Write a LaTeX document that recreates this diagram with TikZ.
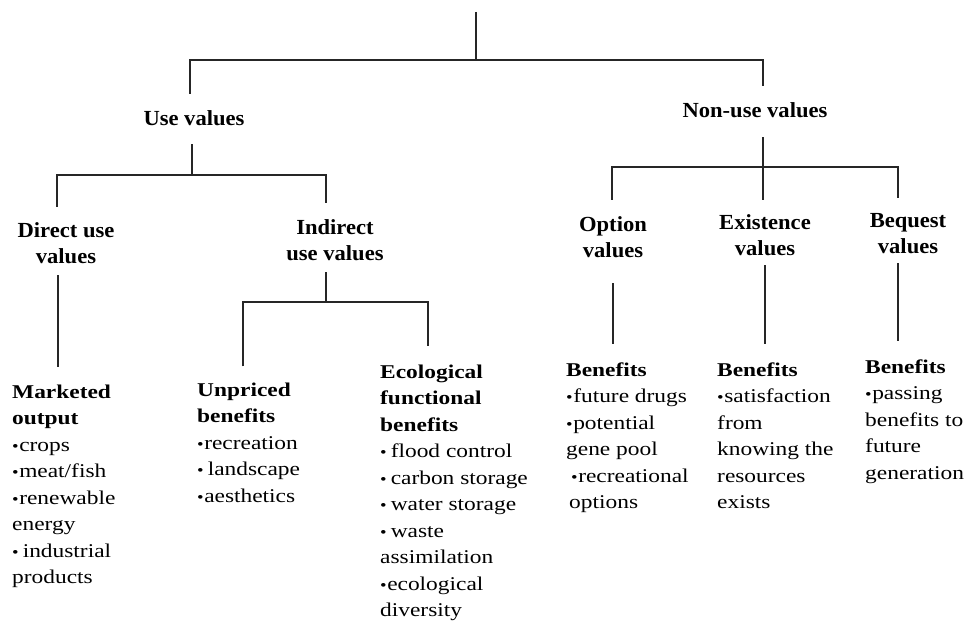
\documentclass[tikz,border=0pt]{standalone}
\usepackage{fontspec}
\usepackage{graphicx}
\setmainfont{Liberation Serif}
\newfontfamily\hfont{Liberation Serif}[FakeStretch=1.05]
\newfontfamily\lfont{Liberation Serif}[FakeStretch=1.2]
\newcommand\bul{\scalebox{0.8}{\textbullet}\hspace{0.5pt}}
\newcommand\bulsp{\scalebox{0.8}{\textbullet}\hspace{4pt}}
\begin{document}
\begin{tikzpicture}[x=1pt,y=-1pt,
  head/.style={font=\hfont\bfseries\fontsize{21.5}{26}\selectfont, align=center, anchor=base, inner sep=0pt},
  lst/.style={font=\lfont\fontsize{19.5}{26.5}\selectfont, align=left, anchor=base west, inner sep=0pt},
  conn/.style={draw=black!85, line width=1.4pt}]
\useasboundingbox[fill=white] (0,0) rectangle (969,623);

% headers (anchored at the baseline of their last line)
\node[head] (use) at (194,126) {Use values};
\node[head] (nonuse) at (755,118) {Non-use values};
\node[head] (direct) at (66,263) {Direct use\\values};
\node[head] (indirect) at (335,260) {Indirect\\use values};
\node[head] (option) at (613,257) {Option\\values};
\node[head] (exist) at (765,255) {Existence\\values};
\node[head] (bequest) at (908,253) {Bequest\\values};

% lists (anchored at the baseline of their last line)
\node[lst] (mkt) at (12,583.5) {\textbf{Marketed}\\\textbf{output}\\\bul crops\\\bul meat/fish\\\bul renewable\\energy\\\bulsp industrial\\products};
\node[lst] (unp) at (197,502) {\textbf{Unpriced}\\\textbf{benefits}\\\bul recreation\\\bulsp landscape\\\bul aesthetics};
\node[lst] (eco) at (380,616.5) {\textbf{Ecological}\\\textbf{functional}\\\textbf{benefits}\\\bulsp flood control\\\bulsp carbon storage\\\bulsp water storage\\\bulsp waste\\assimilation\\\bul ecological\\diversity};
\node[lst] (opt) at (566,508.5) {\textbf{Benefits}\\\bul future drugs\\\bul potential\\gene pool\\\hspace*{5pt}\bul recreational\\\hspace*{3pt}options};
\node[lst] (exi) at (717,508.5) {\textbf{Benefits}\\\bul satisfaction\\from\\knowing the\\resources\\exists};
\node[lst] (beq) at (865,479) {\textbf{Benefits}\\\bul passing\\benefits to\\future\\generation};

% junctions
\coordinate (root) at (476,12);
\coordinate (j0) at (476,60);
\coordinate (j1) at (192,175);
\coordinate (j2) at (326,302);
\coordinate (j3) at (763,167);

% connectors
\draw[conn] (root) -- (j0);
\draw[conn] ([xshift=-4pt,yshift=17pt]use.north) |- (j0) -| ([xshift=8pt,yshift=17pt]nonuse.north);
\draw[conn] ([xshift=-2pt,yshift=-18pt]use.south) -- (j1);
\draw[conn] ([xshift=-9pt,yshift=15pt]direct.north) |- (j1) -| ([xshift=-9pt,yshift=16pt]indirect.north);
\draw[conn] ([xshift=-8pt,yshift=-12pt]direct.south) -- ([xshift=-8pt,yshift=17pt]direct.south |- mkt.north);
\draw[conn] ([xshift=-9pt,yshift=-12pt]indirect.south) -- (j2);
\draw[conn] ([xshift=-83pt,yshift=16pt]j2 |- unp.north) |- (j2) -| ([xshift=102pt,yshift=18pt]j2 |- eco.north);
\draw[conn] ([xshift=8pt,yshift=-19pt]nonuse.south) -- ([xshift=-2pt,yshift=14pt]exist.north);
\draw[conn] ([xshift=-1pt,yshift=16pt]option.north) |- (j3) -| ([xshift=-10pt,yshift=15pt]bequest.north);
\draw[conn] ([yshift=-26pt]option.south) -- ([yshift=18pt]option.south |- opt.north);
\draw[conn] ([yshift=-10pt]exist.south) -- ([yshift=18pt]exist.south |- exi.north);
\draw[conn] ([xshift=-10pt,yshift=-10pt]bequest.south) -- ([xshift=-10pt,yshift=18pt]bequest.south |- beq.north);
\end{tikzpicture}
\end{document}
